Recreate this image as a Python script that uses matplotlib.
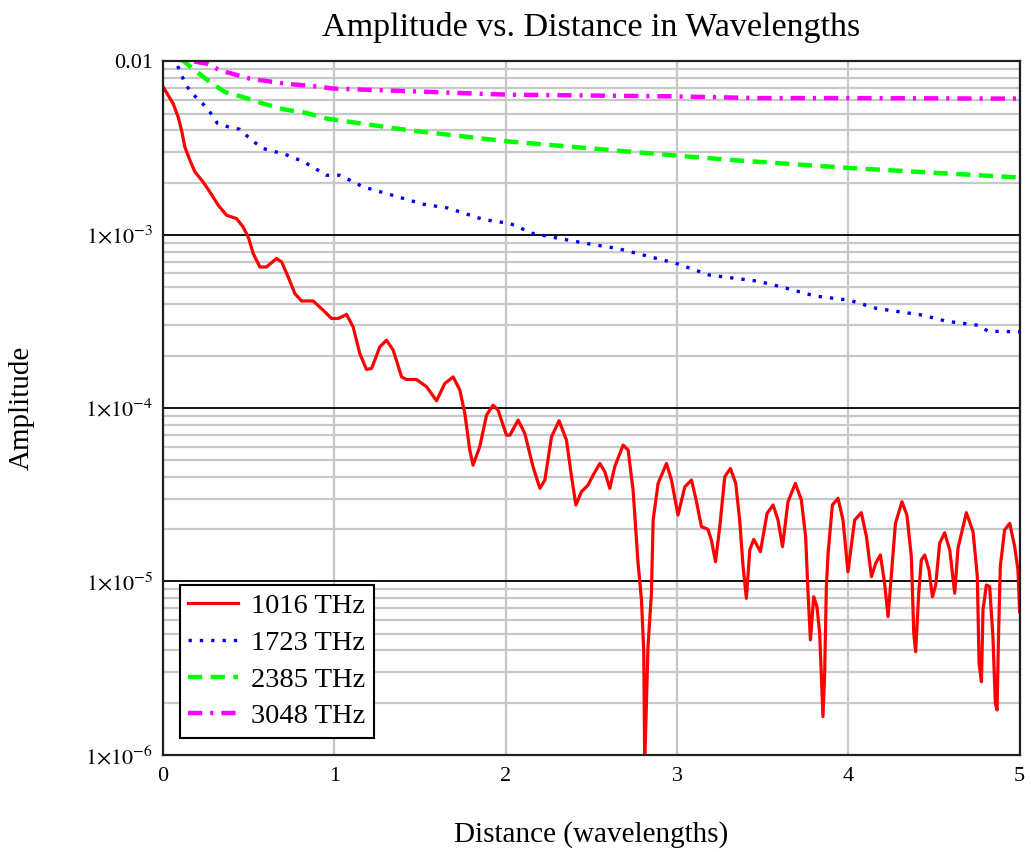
import numpy as np
import matplotlib
matplotlib.use("Agg")
import matplotlib.pyplot as plt
from matplotlib.ticker import FixedLocator, LogLocator, NullFormatter

plt.rcParams['font.family'] = ['Liberation Serif', 'DejaVu Serif']
plt.rcParams['mathtext.fontset'] = 'stix'

# values, amplitudes stored as log10
red_x = [0.0, 0.060, 0.089, 0.109, 0.128, 0.158, 0.187, 0.235, 0.274, 0.323,
         0.372, 0.430, 0.468, 0.498, 0.527, 0.566, 0.605, 0.663, 0.693, 0.731,
         0.770, 0.809, 0.877, 0.935, 0.984, 1.023, 1.072, 1.110, 1.149, 1.188,
         1.218, 1.266, 1.305, 1.344, 1.393, 1.422, 1.480, 1.539, 1.597, 1.645,
         1.694, 1.733, 1.762, 1.791, 1.810, 1.849, 1.889, 1.927, 1.956, 2.005,
         2.025, 2.073, 2.112, 2.160, 2.200, 2.229, 2.268, 2.312, 2.355, 2.385,
         2.410, 2.443, 2.481, 2.511, 2.550, 2.579, 2.608, 2.637, 2.686, 2.715,
         2.744, 2.773, 2.793, 2.806, 2.812, 2.831, 2.851, 2.861, 2.890, 2.939,
         2.968, 3.006, 3.046, 3.085, 3.114, 3.143, 3.181, 3.201, 3.225, 3.250,
         3.279, 3.312, 3.343, 3.366, 3.386, 3.405, 3.425, 3.448, 3.487, 3.526,
         3.561, 3.590, 3.616, 3.648, 3.691, 3.726, 3.751, 3.765, 3.779, 3.798,
         3.817, 3.833, 3.843, 3.852, 3.862, 3.872, 3.882, 3.907, 3.940, 3.969,
         3.998, 4.037, 4.076, 4.106, 4.135, 4.160, 4.187, 4.212, 4.232, 4.252,
         4.275, 4.313, 4.342, 4.368, 4.382, 4.393, 4.411, 4.426, 4.446, 4.471,
         4.491, 4.510, 4.533, 4.562, 4.592, 4.621, 4.640, 4.689, 4.728, 4.753,
         4.763, 4.777, 4.786, 4.806, 4.825, 4.844, 4.858, 4.868, 4.877, 4.887,
         4.912, 4.942, 4.971, 4.990, 5.0]
red_log = [-2.145, -2.244, -2.321, -2.398, -2.494, -2.571, -2.638, -2.696, -2.753, -2.830,
           -2.888, -2.907, -2.955, -3.013, -3.108, -3.186, -3.186, -3.137, -3.157, -3.243,
           -3.339, -3.382, -3.382, -3.435, -3.483, -3.483, -3.460, -3.531, -3.685, -3.777,
           -3.771, -3.647, -3.608, -3.666, -3.820, -3.835, -3.835, -3.877, -3.958, -3.858,
           -3.820, -3.896, -4.031, -4.242, -4.329, -4.223, -4.040, -3.983, -4.012, -4.156,
           -4.156, -4.069, -4.146, -4.338, -4.463, -4.415, -4.165, -4.073, -4.184, -4.396,
           -4.559, -4.482, -4.444, -4.386, -4.319, -4.367, -4.463, -4.338, -4.213, -4.242,
           -4.473, -4.895, -5.107, -5.395, -6.05, -5.376, -5.068, -4.646, -4.434, -4.319,
           -4.415, -4.617, -4.454, -4.415, -4.540, -4.684, -4.699, -4.761, -4.886, -4.684,
           -4.396, -4.348, -4.434, -4.646, -4.915, -5.097, -4.818, -4.757, -4.828, -4.607,
           -4.559, -4.646, -4.799, -4.540, -4.434, -4.530, -4.742, -5.068, -5.337, -5.088,
           -5.145, -5.299, -5.549, -5.779, -5.529, -5.030, -4.837, -4.559, -4.520, -4.646,
           -4.944, -4.646, -4.603, -4.742, -4.972, -4.895, -4.847, -5.010, -5.203, -4.953,
           -4.665, -4.540, -4.617, -4.857, -5.299, -5.405, -5.068, -4.876, -4.847, -4.934,
           -5.088, -5.020, -4.780, -4.719, -4.818, -5.068, -4.809, -4.603, -4.713, -4.972,
           -5.471, -5.578, -5.164, -5.020, -5.030, -5.318, -5.702, -5.741, -5.299, -4.915,
           -4.703, -4.665, -4.799, -4.934, -5.174]

blue_x = [0.0, 0.089, 0.124, 0.162, 0.216, 0.274, 0.317, 0.385, 0.449, 0.518,
          0.585, 0.712, 0.823, 0.955, 1.033, 1.169, 1.373, 1.519, 1.665, 1.869,
          2.025, 2.160, 2.452, 2.656, 2.997, 3.191, 3.473, 3.610, 3.804, 4.008,
          4.164, 4.436, 4.572, 4.757, 4.815, 5.0]
blue_log = [-1.85, -2.033, -2.114, -2.180, -2.225, -2.292, -2.356, -2.379, -2.392, -2.455,
            -2.503, -2.536, -2.580, -2.657, -2.657, -2.724, -2.782, -2.824, -2.846, -2.912,
            -2.935, -2.993, -3.047, -3.080, -3.166, -3.233, -3.268, -3.301, -3.353, -3.378,
            -3.425, -3.464, -3.499, -3.522, -3.556, -3.56]

green_x = [0.0, 0.167, 0.274, 0.362, 0.468, 0.585, 0.712, 0.838, 0.955, 1.441,
           2.005, 2.977, 3.347, 4.008, 4.942, 5.0]
green_log = [-1.90, -2.036, -2.119, -2.177, -2.206, -2.244, -2.278, -2.298, -2.330, -2.398,
             -2.461, -2.542, -2.571, -2.615, -2.667, -2.669]

magenta_x = [0.0, 0.138, 0.255, 0.333, 0.508, 0.717, 0.911, 0.994, 2.005, 2.977,
             3.483, 4.008, 4.981, 5.0]
magenta_log = [-1.94, -1.994, -2.013, -2.052, -2.100, -2.129, -2.146, -2.157, -2.192, -2.202,
               -2.212, -2.212, -2.215, -2.215]

labels = ['1016 THz', '1723 THz', '2385 THz', '3048 THz']
y_ticks = [1e-6, 1e-5, 1e-4, 1e-3, 1e-2]
y_ticklabels = [r'$1{\times}10^{-6}$', r'$1{\times}10^{-5}$', r'$1{\times}10^{-4}$',
                r'$1{\times}10^{-3}$', '0.01']
x_ticks = [0, 1, 2, 3, 4, 5]

fig = plt.figure(figsize=(10.31, 8.52), dpi=100)
ax = fig.add_axes([0.158, 0.114, 0.831, 0.814])

ax.plot(red_x, 10 ** np.array(red_log), color='#ff0000', lw=2.3, label=labels[0])
ax.plot(blue_x, 10 ** np.array(blue_log), color='#0000ff', lw=2.4,
        ls=(0, (1, 2.4)), label=labels[1])
ax.plot(green_x, 10 ** np.array(green_log), color='#00ff00', lw=3.2,
        ls=(0, (3.2, 1.9)), label=labels[2])
ax.plot(magenta_x, 10 ** np.array(magenta_log), color='#ff00ff', lw=3.2,
        ls=(0, (3.2, 1.8, 0.7, 1.8)), label=labels[3])

ax.set_yscale('log')
ax.set_xlim(0, 5)
ax.set_ylim(1e-6, 1e-2)

ax.yaxis.set_major_locator(FixedLocator(y_ticks))
ax.set_yticklabels(y_ticklabels)
ax.yaxis.set_minor_locator(LogLocator(base=10, subs=np.arange(2, 10)))
ax.yaxis.set_minor_formatter(NullFormatter())
ax.set_xticks(x_ticks)
ax.set_xticklabels([str(t) for t in x_ticks])

ax.set_axisbelow(True)
ax.yaxis.grid(True, which='minor', color='#c8c8c8', lw=1.6)
ax.yaxis.grid(True, which='major', color='black', lw=1.3)
ax.xaxis.grid(True, which='major', color='#c8c8c8', lw=1.6)
ax.tick_params(which='both', length=0, labelsize=16, pad=7)
ax.tick_params(axis='x', pad=9)
for s in ax.spines.values():
    s.set_linewidth(1.6)
    s.set_color('#202020')

ax.set_title('Amplitude vs. Distance in Wavelengths', fontsize=24.5, pad=18)
ax.set_xlabel('Distance (wavelengths)', fontsize=21, labelpad=25)
ax.set_ylabel('Amplitude', fontsize=21, labelpad=36)

leg = ax.legend(loc='lower left', bbox_to_anchor=(0.0198, 0.0245), fontsize=20.5,
                handlelength=1.75, handletextpad=0.45, labelspacing=0.38,
                borderpad=0.3, borderaxespad=0, fancybox=False, framealpha=1,
                edgecolor='black')
leg.get_frame().set_linewidth(1.5)

fig.savefig('out.png', dpi=100)
